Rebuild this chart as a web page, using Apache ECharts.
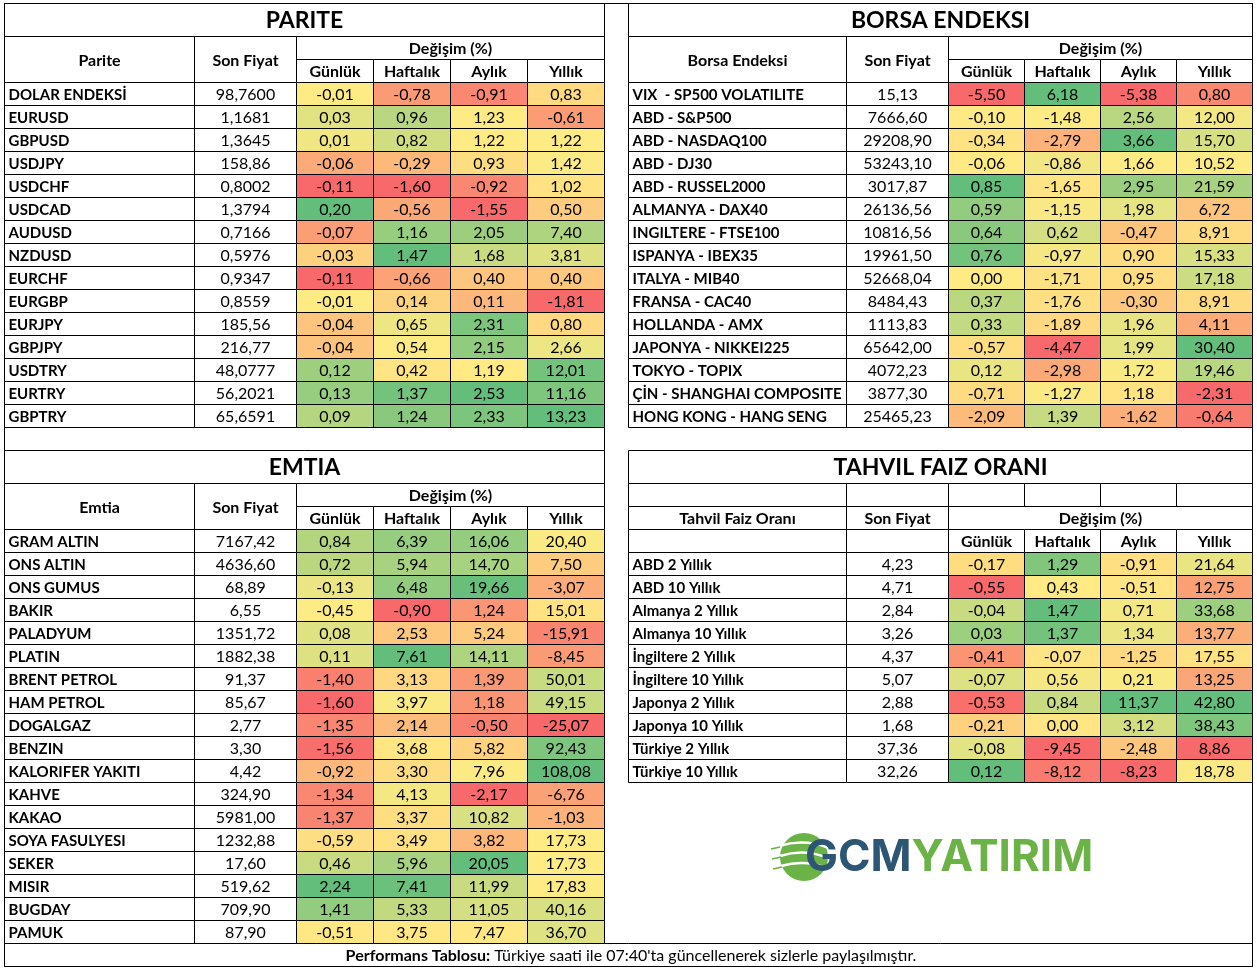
<!DOCTYPE html>
<html>
<head>
<meta charset="utf-8">
<title>Performans Tablosu</title>
<script src="https://cdn.jsdelivr.net/npm/echarts@6/dist/echarts.min.js"></script>
<style>
html, body { margin: 0; padding: 0; background: #fff; }
#main { width: 1257px; height: 968px; }
</style>
</head>
<body>
<div id="main"></div>
<script>
// ---- data ----
var changeCols = ['Günlük', 'Haftalık', 'Aylık', 'Yıllık'];

var pariteNames = ['DOLAR ENDEKSİ', 'EURUSD', 'GBPUSD', 'USDJPY', 'USDCHF', 'USDCAD', 'AUDUSD', 'NZDUSD',
    'EURCHF', 'EURGBP', 'EURJPY', 'GBPJPY', 'USDTRY', 'EURTRY', 'GBPTRY'];
var paritePrices = ['98,7600', '1,1681', '1,3645', '158,86', '0,8002', '1,3794', '0,7166', '0,5976',
    '0,9347', '0,8559', '185,56', '216,77', '48,0777', '56,2021', '65,6591'];
var pariteGunluk = [-0.01, 0.03, 0.01, -0.06, -0.11, 0.20, -0.07, -0.03, -0.11, -0.01, -0.04, -0.04, 0.12, 0.13, 0.09];
var pariteHaftalik = [-0.78, 0.96, 0.82, -0.29, -1.60, -0.56, 1.16, 1.47, -0.66, 0.14, 0.65, 0.54, 0.42, 1.37, 1.24];
var pariteAylik = [-0.91, 1.23, 1.22, 0.93, -0.92, -1.55, 2.05, 1.68, 0.40, 0.11, 2.31, 2.15, 1.19, 2.53, 2.33];
var pariteYillik = [0.83, -0.61, 1.22, 1.42, 1.02, 0.50, 7.40, 3.81, 0.40, -1.81, 0.80, 2.66, 12.01, 11.16, 13.23];

var borsaNames = ['VIX  - SP500 VOLATILITE', 'ABD - S&P500', 'ABD - NASDAQ100', 'ABD - DJ30', 'ABD - RUSSEL2000',
    'ALMANYA - DAX40', 'INGILTERE - FTSE100', 'ISPANYA - IBEX35', 'ITALYA - MIB40', 'FRANSA - CAC40',
    'HOLLANDA - AMX', 'JAPONYA - NIKKEI225', 'TOKYO - TOPIX', 'ÇİN - SHANGHAI COMPOSITE', 'HONG KONG - HANG SENG'];
var borsaPrices = ['15,13', '7666,60', '29208,90', '53243,10', '3017,87', '26136,56', '10816,56', '19961,50',
    '52668,04', '8484,43', '1113,83', '65642,00', '4072,23', '3877,30', '25465,23'];
var borsaGunluk = [-5.50, -0.10, -0.34, -0.06, 0.85, 0.59, 0.64, 0.76, 0.00, 0.37, 0.33, -0.57, 0.12, -0.71, -2.09];
var borsaHaftalik = [6.18, -1.48, -2.79, -0.86, -1.65, -1.15, 0.62, -0.97, -1.71, -1.76, -1.89, -4.47, -2.98, -1.27, 1.39];
var borsaAylik = [-5.38, 2.56, 3.66, 1.66, 2.95, 1.98, -0.47, 0.90, 0.95, -0.30, 1.96, 1.99, 1.72, 1.18, -1.62];
var borsaYillik = [0.80, 12.00, 15.70, 10.52, 21.59, 6.72, 8.91, 15.33, 17.18, 8.91, 4.11, 30.40, 19.46, -2.31, -0.64];

var emtiaNames = ['GRAM ALTIN', 'ONS ALTIN', 'ONS GUMUS', 'BAKIR', 'PALADYUM', 'PLATIN', 'BRENT PETROL', 'HAM PETROL',
    'DOGALGAZ', 'BENZIN', 'KALORIFER YAKITI', 'KAHVE', 'KAKAO', 'SOYA FASULYESI', 'SEKER', 'MISIR', 'BUGDAY', 'PAMUK'];
var emtiaPrices = ['7167,42', '4636,60', '68,89', '6,55', '1351,72', '1882,38', '91,37', '85,67', '2,77', '3,30',
    '4,42', '324,90', '5981,00', '1232,88', '17,60', '519,62', '709,90', '87,90'];
var emtiaGunluk = [0.84, 0.72, -0.13, -0.45, 0.08, 0.11, -1.40, -1.60, -1.35, -1.56, -0.92, -1.34, -1.37, -0.59, 0.46, 2.24, 1.41, -0.51];
var emtiaHaftalik = [6.39, 5.94, 6.48, -0.90, 2.53, 7.61, 3.13, 3.97, 2.14, 3.68, 3.30, 4.13, 3.37, 3.49, 5.96, 7.41, 5.33, 3.75];
var emtiaAylik = [16.06, 14.70, 19.66, 1.24, 5.24, 14.11, 1.39, 1.18, -0.50, 5.82, 7.96, -2.17, 10.82, 3.82, 20.05, 11.99, 11.05, 7.47];
var emtiaYillik = [20.40, 7.50, -3.07, 15.01, -15.91, -8.45, 50.01, 49.15, -25.07, 92.43, 108.08, -6.76, -1.03, 17.73, 17.73, 17.83, 40.16, 36.70];

var tahvilNames = ['ABD 2 Yıllık', 'ABD 10 Yıllık', 'Almanya 2 Yıllık', 'Almanya 10 Yıllık', 'İngiltere 2 Yıllık',
    'İngiltere 10 Yıllık', 'Japonya 2 Yıllık', 'Japonya 10 Yıllık', 'Türkiye 2 Yıllık', 'Türkiye 10 Yıllık'];
var tahvilPrices = ['4,23', '4,71', '2,84', '3,26', '4,37', '5,07', '2,88', '1,68', '37,36', '32,26'];
var tahvilGunluk = [-0.17, -0.55, -0.04, 0.03, -0.41, -0.07, -0.53, -0.21, -0.08, 0.12];
var tahvilHaftalik = [1.29, 0.43, 1.47, 1.37, -0.07, 0.56, 0.84, 0.00, -9.45, -8.12];
var tahvilAylik = [-0.91, -0.51, 0.71, 1.34, -1.25, 0.21, 11.37, 3.12, -2.48, -8.23];
var tahvilYillik = [21.64, 12.75, 33.68, 13.77, 17.55, 13.25, 42.80, 38.43, 8.86, 18.78];

// ---- layout ----
var FONT = 'Lato, "Open Sans", sans-serif';
var ROW_H = 23, TITLE_H = 33;
var LEFT_X = 4.5, RIGHT_X = 628.5;
var LEFT_COLS = { name: 190, price: 102, chg: 77 };
var RIGHT_COLS = { name: 218, price: 102, chg: 76 };

var tables = [
    { title: 'PARITE', head: 'Parite', x: LEFT_X, y: 3.5, cols: LEFT_COLS, style: 'std',
      names: pariteNames, prices: paritePrices, changes: [pariteGunluk, pariteHaftalik, pariteAylik, pariteYillik] },
    { title: 'BORSA ENDEKSI', head: 'Borsa Endeksi', x: RIGHT_X, y: 3.5, cols: RIGHT_COLS, style: 'std',
      names: borsaNames, prices: borsaPrices, changes: [borsaGunluk, borsaHaftalik, borsaAylik, borsaYillik] },
    { title: 'EMTIA', head: 'Emtia', x: LEFT_X, y: 450.5, cols: LEFT_COLS, style: 'std',
      names: emtiaNames, prices: emtiaPrices, changes: [emtiaGunluk, emtiaHaftalik, emtiaAylik, emtiaYillik] },
    { title: 'TAHVIL FAIZ ORANI', head: 'Tahvil Faiz Oranı', x: RIGHT_X, y: 450.5, cols: RIGHT_COLS, style: 'bond',
      names: tahvilNames, prices: tahvilPrices, changes: [tahvilGunluk, tahvilHaftalik, tahvilAylik, tahvilYillik] }
];

// excel style 3 colour scale (min red, 50th percentile yellow, max green)
var RED = [248, 105, 107], YEL = [255, 235, 132], GRN = [99, 190, 123];
function colStats(arr) {
    var s = arr.slice().sort(function (a, b) { return a - b; });
    var pos = (s.length - 1) * 0.5, lo = Math.floor(pos), hi = Math.ceil(pos);
    return { min: s[0], max: s[s.length - 1], mid: s[lo] + (s[hi] - s[lo]) * (pos - lo) };
}
function mix(a, b, t) {
    return 'rgb(' + [0, 1, 2].map(function (i) { return Math.round(a[i] + (b[i] - a[i]) * t); }).join(',') + ')';
}
function scaleColor(v, st) {
    if (v <= st.mid) return mix(RED, YEL, st.mid === st.min ? 1 : (v - st.min) / (st.mid - st.min));
    return mix(YEL, GRN, (v - st.mid) / (st.max - st.mid));
}
function fmt(v) { return v.toFixed(2).replace('.', ','); }

var graphics = [];
function box(x, y, w, h, text, font) {
    graphics.push({ type: 'rect', z: 5, shape: { x: x, y: y, width: w, height: h },
        style: { fill: '#fff', stroke: '#000', lineWidth: 1 } });
    if (text) {
        graphics.push({ type: 'text', z: 6, x: x + w / 2, y: y + h / 2 + 1,
            style: { text: text, font: font || ('bold 16px ' + FONT), fill: '#000', align: 'center', verticalAlign: 'middle' } });
    }
}

function textCell(texts, left, font) {
    return function (params, api) {
        var c = api.coord([api.value(0), api.value(1)]);
        var s = api.size([1, 1]);
        var x0 = c[0] - s[0] / 2, y0 = c[1] - s[1] / 2;
        return { type: 'group', children: [
            { type: 'rect', shape: { x: x0, y: y0, width: s[0], height: s[1] },
              style: { fill: '#fff', stroke: '#000', lineWidth: 1 } },
            { type: 'text', style: { text: texts[params.dataIndex], x: left ? x0 + 4 : c[0], y: c[1] + 1,
              align: left ? 'left' : 'center', verticalAlign: 'middle', font: font, fill: '#000' } }
        ] };
    };
}

function changeCell(stats) {
    return function (params, api) {
        var k = api.value(0), v = api.value(2);
        var c = api.coord([k, api.value(1)]);
        var s = api.size([1, 1]);
        var x0 = c[0] - s[0] / 2, y0 = c[1] - s[1] / 2;
        return { type: 'group', children: [
            { type: 'rect', shape: { x: x0, y: y0, width: s[0], height: s[1] },
              style: { fill: scaleColor(v, stats[k]), stroke: '#000', lineWidth: 1 } },
            { type: 'text', style: { text: fmt(v), x: c[0], y: c[1] + 1, align: 'center', verticalAlign: 'middle',
              font: '16px ' + FONT, fill: '#000' } }
        ] };
    };
}

var grids = [], xAxes = [], yAxes = [], series = [];
function addGrid(left, top, width, n, xData, yData) {
    var gi = grids.length;
    grids.push({ left: left, top: top, width: width, height: n * ROW_H, outerBoundsMode: 'none' });
    xAxes.push({ type: 'category', gridIndex: gi, data: xData, show: false });
    yAxes.push({ type: 'category', gridIndex: gi, data: yData, inverse: true, show: false });
    return gi;
}

tables.forEach(function (t) {
    var c = t.cols, n = t.names.length;
    var fullW = c.name + c.price + 4 * c.chg;
    var px = t.x + c.name, cx = px + c.price;
    box(t.x, t.y, fullW, TITLE_H, t.title, 'bold 23px ' + FONT);
    var hy = t.y + TITLE_H, dataTop;
    if (t.style === 'std') {
        box(t.x, hy, c.name, 2 * ROW_H, t.head);
        box(px, hy, c.price, 2 * ROW_H, 'Son Fiyat');
        box(cx, hy, 4 * c.chg, ROW_H, 'Değişim (%)');
        changeCols.forEach(function (h, k) { box(cx + k * c.chg, hy + ROW_H, c.chg, ROW_H, h); });
        dataTop = hy + 2 * ROW_H;
    } else {
        box(t.x, hy, c.name, ROW_H, '');
        box(px, hy, c.price, ROW_H, '');
        changeCols.forEach(function (h, k) { box(cx + k * c.chg, hy, c.chg, ROW_H, ''); });
        box(t.x, hy + ROW_H, c.name, ROW_H, t.head);
        box(px, hy + ROW_H, c.price, ROW_H, 'Son Fiyat');
        box(cx, hy + ROW_H, 4 * c.chg, ROW_H, 'Değişim (%)');
        box(t.x, hy + 2 * ROW_H, c.name, ROW_H, '');
        box(px, hy + 2 * ROW_H, c.price, ROW_H, '');
        changeCols.forEach(function (h, k) { box(cx + k * c.chg, hy + 2 * ROW_H, c.chg, ROW_H, h); });
        dataTop = hy + 3 * ROW_H;
    }

    var g1 = addGrid(t.x, dataTop, c.name, n, [t.head], t.names);
    series.push({ type: 'custom', xAxisIndex: g1, yAxisIndex: g1, silent: true,
        data: t.names.map(function (nm, i) { return [0, i]; }),
        renderItem: textCell(t.names, true, 'bold 15px ' + FONT) });

    var g2 = addGrid(px, dataTop, c.price, n, ['Son Fiyat'], t.names);
    series.push({ type: 'custom', xAxisIndex: g2, yAxisIndex: g2, silent: true,
        data: t.prices.map(function (p, i) { return [0, i]; }),
        renderItem: textCell(t.prices, false, '16px ' + FONT) });

    var g3 = addGrid(cx, dataTop, 4 * c.chg, n, changeCols, t.names);
    var stats = t.changes.map(colStats);
    var cells = [];
    t.changes.forEach(function (col, k) {
        col.forEach(function (v, i) { cells.push([k, i, v]); });
    });
    series.push({ type: 'custom', xAxisIndex: g3, yAxisIndex: g3, silent: true,
        data: cells, renderItem: changeCell(stats) });
});

// empty spacer row under PARITE
box(LEFT_X, 427.5, 600, ROW_H, '');

// footer
graphics.push({ type: 'rect', z: 5, shape: { x: 4.5, y: 943.5, width: 1248, height: 23 },
    style: { fill: '#fff', stroke: '#000', lineWidth: 1 } });
graphics.push({ type: 'text', z: 6, x: 631, y: 956,
    style: { text: '{b|Performans Tablosu:} Türkiye saati ile 07:40\'ta güncellenerek sizlerle paylaşılmıştır.',
        font: '16px ' + FONT, fill: '#000', align: 'center', verticalAlign: 'middle',
        rich: { b: { font: 'bold 16px ' + FONT, fill: '#000' } } } });

// outer frame
graphics.push({ type: 'rect', z: 20, shape: { x: 4.5, y: 3.5, width: 1248, height: 963 },
    style: { fill: null, stroke: '#000', lineWidth: 1 } });

// logo
var LOGO_GREEN = '#6BB247';
graphics.push({ type: 'circle', z: 7, shape: { cx: 804, cy: 857, r: 24 }, style: { fill: LOGO_GREEN } });
[[846, 838, 848], [856, 848, 858], [866, 859, 868]].forEach(function (b, i) {
    graphics.push({ type: 'bezierCurve', z: 7,
        shape: { x1: 779 + i, y1: b[0], cpx1: 804, cpy1: b[1], x2: 829 - i, y2: b[2] },
        style: { stroke: '#fff', lineWidth: 2.5, fill: null } });
    graphics.push({ type: 'line', z: 7,
        shape: { x1: 771 + i, y1: b[0] + 3, x2: 780 + i, y2: b[0] + 1 },
        style: { stroke: LOGO_GREEN, lineWidth: 1.5 } });
});
graphics.push({ type: 'text', z: 8, x: 805, y: 858,
    style: { text: '{g|GCM}{y|YATIRIM}', align: 'left', verticalAlign: 'middle',
        rich: { g: { font: 'bold 44px Inter, ' + FONT, fill: '#2D5574' },
                y: { font: 'bold 44px Inter, ' + FONT, fill: LOGO_GREEN } } } });

var chart = echarts.init(document.getElementById('main'));
chart.setOption({
    animation: false,
    backgroundColor: '#fff',
    grid: grids,
    xAxis: xAxes,
    yAxis: yAxes,
    series: series,
    graphic: { elements: graphics }
});
</script>
</body>
</html>
